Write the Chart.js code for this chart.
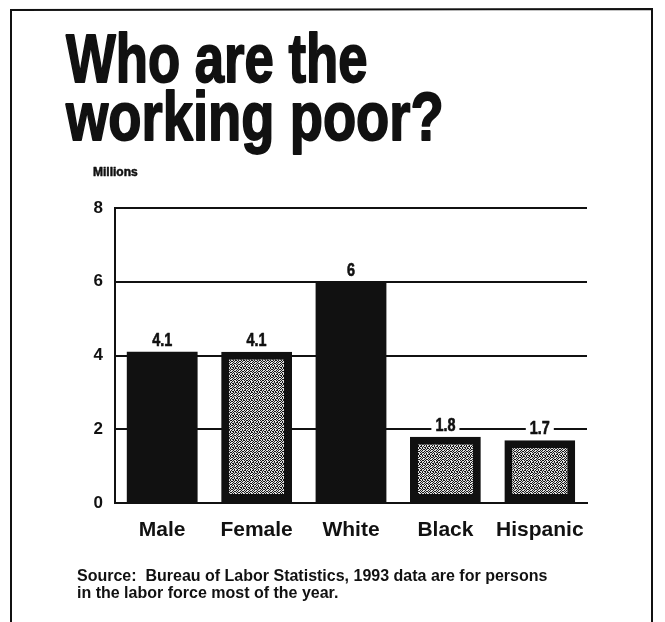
<!DOCTYPE html>
<html><head><meta charset="utf-8">
<script src="https://cdn.jsdelivr.net/npm/chart.js@4.4.1/dist/chart.umd.min.js"></script>
<style>html,body{margin:0;padding:0;background:#fff;} #wrap{width:665px;height:622px;position:relative;}</style>
</head><body><div id="wrap"><canvas id="c" width="665" height="622"></canvas></div>
<script>
const categories = ['Male', 'Female', 'White', 'Black', 'Hispanic'];
const values = [4.1, 4.1, 6, 1.8, 1.7];
const valueLabels = ['4.1', '4.1', '6', '1.8', '1.7'];
const yTicks = [0, 2, 4, 6, 8];
const titleLines = ['Who are the', 'working poor?'];
const unitLabel = 'Millions';
const sourceLines = ['Source:  Bureau of Labor Statistics, 1993 data are for persons', 'in the labor force most of the year.'];
const barFillKinds = ['solid', 'stipple', 'solid', 'stipple', 'stipple'];

const SANS = "'Liberation Sans', Arial, Helvetica, sans-serif";
const INK = '#111';

function stipplePattern() {
  const c = document.createElement('canvas'); c.width = 8; c.height = 8;
  const x = c.getContext('2d');
  x.fillStyle = '#161616'; x.fillRect(0, 0, 8, 8);
  const map = ['10100101', '01011010', '10110101', '01001011', '10110100', '01011011', '11010010', '00101101'];
  x.fillStyle = '#e0e0e0';
  map.forEach((row, j) => [...row].forEach((ch, i) => { if (ch === '1') x.fillRect(i, j, 1, 1); }));
  return x.createPattern(c, 'repeat');
}
const pat = stipplePattern();

const framePlugin = {
  id: 'frame',
  beforeDraw(chart) {
    const ctx = chart.ctx;
    ctx.save();
    ctx.fillStyle = '#fff'; ctx.fillRect(0, 0, chart.width, chart.height);
    ctx.strokeStyle = INK; ctx.lineWidth = 2;
    ctx.beginPath();
    ctx.moveTo(11, 640); ctx.lineTo(11, 10); ctx.lineTo(652, 9); ctx.lineTo(652, 640);
    ctx.stroke();
    ctx.restore();
  }
};

function condensedText(ctx, text, x, y, sx, heavy) {
  ctx.save();
  ctx.translate(x, y);
  ctx.scale(sx, 1);
  ctx.fillText(text, 0, 0);
  if (heavy) { ctx.lineWidth = heavy; ctx.strokeStyle = INK; ctx.lineJoin = 'round'; ctx.strokeText(text, 0, 0); }
  ctx.restore();
}

const valueLabelPlugin = {
  id: 'valueLabels',
  afterDatasetsDraw(chart) {
    const ctx = chart.ctx;
    const meta = chart.getDatasetMeta(0);
    ctx.save();
    ctx.font = 'bold 18px ' + SANS;
    ctx.textAlign = 'center'; ctx.textBaseline = 'alphabetic';
    meta.data.forEach((bar, i) => {
      const t = valueLabels[i];
      const w = ctx.measureText(t).width * 0.8;
      const y = bar.y - 6;
      ctx.fillStyle = '#fff';
      ctx.fillRect(bar.x - w / 2 - 4, y - 15, w + 8, 17);
      ctx.fillStyle = INK;
      condensedText(ctx, t, bar.x, y, 0.8, 0.6);
    });
    ctx.restore();
  }
};

const textPlugin = {
  id: 'extraText',
  afterDraw(chart) {
    const ctx = chart.ctx;
    ctx.save();
    ctx.fillStyle = INK;
    ctx.textAlign = 'left'; ctx.textBaseline = 'alphabetic';
    ctx.font = 'bold 68px ' + SANS;
    condensedText(ctx, titleLines[0], 66, 82, 0.775, 1.8);
    condensedText(ctx, titleLines[1], 66, 140, 0.8, 1.8);
    ctx.textBaseline = 'middle';
    ctx.font = 'bold 12px ' + SANS;
    condensedText(ctx, unitLabel, 93, 173, 1.0, 0.5);
    ctx.font = 'bold 16px ' + SANS;
    ctx.fillText(sourceLines[0], 77, 577);
    ctx.fillText(sourceLines[1], 77, 594);
    ctx.restore();
  }
};

new Chart(document.getElementById('c'), {
  type: 'bar',
  data: {
    labels: categories,
    datasets: [{
      data: values,
      backgroundColor: barFillKinds.map(k => k === 'solid' ? INK : pat),
      borderColor: INK,
      borderWidth: barFillKinds.map(k => k === 'solid' ? 0 : 8),
      borderSkipped: false,
      barPercentage: 0.75,
      categoryPercentage: 1
    }]
  },
  options: {
    responsive: false,
    animation: false,
    layout: { padding: { left: 66, right: 78, top: 208, bottom: 0 } },
    plugins: {
      legend: { display: false },
      tooltip: { enabled: false },
      title: { display: false }
    },
    scales: {
      x: {
        grid: { display: false, drawTicks: false },
        border: { display: true, color: INK, width: 2 },
        ticks: { color: INK, padding: 15, maxRotation: 0, minRotation: 0, autoSkip: false,
                 font: { family: SANS, size: 21, weight: 'bold' } },
        afterFit(scale) { scale.height = 119; }
      },
      y: {
        min: 0, max: 8,
        afterBuildTicks(scale) { scale.ticks = yTicks.map(v => ({ value: v })); },
        grid: { color: INK, lineWidth: 2, drawTicks: false },
        border: { display: true, color: INK, width: 2 },
        ticks: { color: INK, padding: 12, font: { family: SANS, size: 17, weight: 'bold' } },
        afterFit(scale) { scale.width = 49; }
      }
    }
  },
  plugins: [framePlugin, valueLabelPlugin, textPlugin]
});
</script>
</body></html>
